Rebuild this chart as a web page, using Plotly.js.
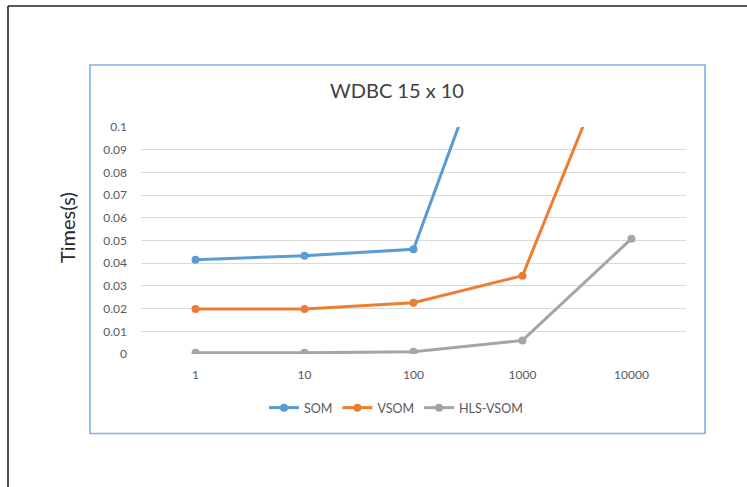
<!DOCTYPE html>
<html>
<head>
<meta charset="utf-8">
<script src="https://cdn.plot.ly/plotly-3.0.1.min.js"></script>
<style>
  html, body { margin: 0; padding: 0; background: #ffffff; }
  #chart { width: 747px; height: 487px; }
</style>
</head>
<body>
<div id="chart"></div>
<script>
// Iteration counts (category axis) and run times in seconds
const iterations = ['1', '10', '100', '1000', '10000'];
const somTimes = [0.0415, 0.0433, 0.0461, 0.177, 1.9];
const vsomTimes = [0.0198, 0.0198, 0.0226, 0.0345, 0.153];
const hlsVsomTimes = [0.0005, 0.0005, 0.001, 0.006, 0.0508];

const seriesNames = ['SOM', 'VSOM', 'HLS-VSOM'];
const seriesColors = ['#5b9bd5', '#ed7d31', '#a5a5a5'];
const seriesValues = [somTimes, vsomTimes, hlsVsomTimes];

const FONT = 'Lato, "Open Sans", sans-serif';

const traces = seriesValues.map((vals, i) => ({
  type: 'scatter',
  mode: 'lines+markers',
  name: seriesNames[i],
  x: iterations,
  y: vals,
  line: { color: seriesColors[i], width: 3 },
  marker: { color: seriesColors[i], size: 8 }
}));

// Plot area spans 141..686 px horizontally and 127..354 px vertically
const L = 141, R = 686, T = 127, B = 354;
const px = v => (v - L) / (R - L);
const py = v => (B - v) / (B - T);

const layout = {
  width: 747,
  height: 487,
  paper_bgcolor: '#ffffff',
  plot_bgcolor: '#ffffff',
  margin: { l: L, r: 747 - R, t: T, b: 487 - B, pad: 0 },
  showlegend: true,
  title: {
    text: 'WDBC 15 x 10',
    font: { family: FONT, size: 20, color: '#404040' },
    x: 397 / 747, xref: 'container', xanchor: 'center',
    y: 1 - 91 / 487, yref: 'container', yanchor: 'middle'
  },
  xaxis: {
    type: 'category',
    range: [-0.5, 4.5],
    showgrid: false,
    zeroline: false,
    showline: false,
    ticks: '',
    ticklabelstandoff: 12,
    tickfont: { family: FONT, size: 12, color: '#595959' },
    fixedrange: true
  },
  yaxis: {
    range: [0, 0.1],
    dtick: 0.01,
    tick0: 0,
    showgrid: true,
    gridcolor: '#d9d9d9',
    gridwidth: 1,
    zeroline: false,
    showline: false,
    ticks: '',
    ticklabelstandoff: 13,
    tickfont: { family: FONT, size: 12, color: '#595959' },
    fixedrange: true
  },
  annotations: [
    { text: 'Times(s)', textangle: -90, showarrow: false,
      xref: 'paper', yref: 'paper', x: px(67), y: py(228),
      xanchor: 'center', yanchor: 'middle',
      font: { family: FONT, size: 20, color: '#262626' } }
  ],
  legend: {
    orientation: 'h',
    x: px(396), xanchor: 'center',
    y: py(408), yanchor: 'middle',
    font: { family: FONT, size: 12.5, color: '#595959' },
    itemwidth: 30,
    bgcolor: 'rgba(0,0,0,0)'
  },
  shapes: [
    // chart frame
    { type: 'rect', xref: 'paper', yref: 'paper',
      x0: px(90), x1: px(705), y0: py(433.5), y1: py(65),
      line: { color: '#7fb1e3', width: 1.6 }, fillcolor: 'rgba(0,0,0,0)', layer: 'below' },
    // outer page edges
    { type: 'line', xref: 'paper', yref: 'paper',
      x0: px(8), x1: px(8), y0: py(6), y1: py(490),
      line: { color: '#222222', width: 1.6 } },
    { type: 'line', xref: 'paper', yref: 'paper',
      x0: px(8), x1: px(750), y0: py(6), y1: py(6),
      line: { color: '#222222', width: 1.6 } }
  ]
};

Plotly.newPlot('chart', traces, layout, { displayModeBar: false, staticPlot: true });
</script>
</body>
</html>
